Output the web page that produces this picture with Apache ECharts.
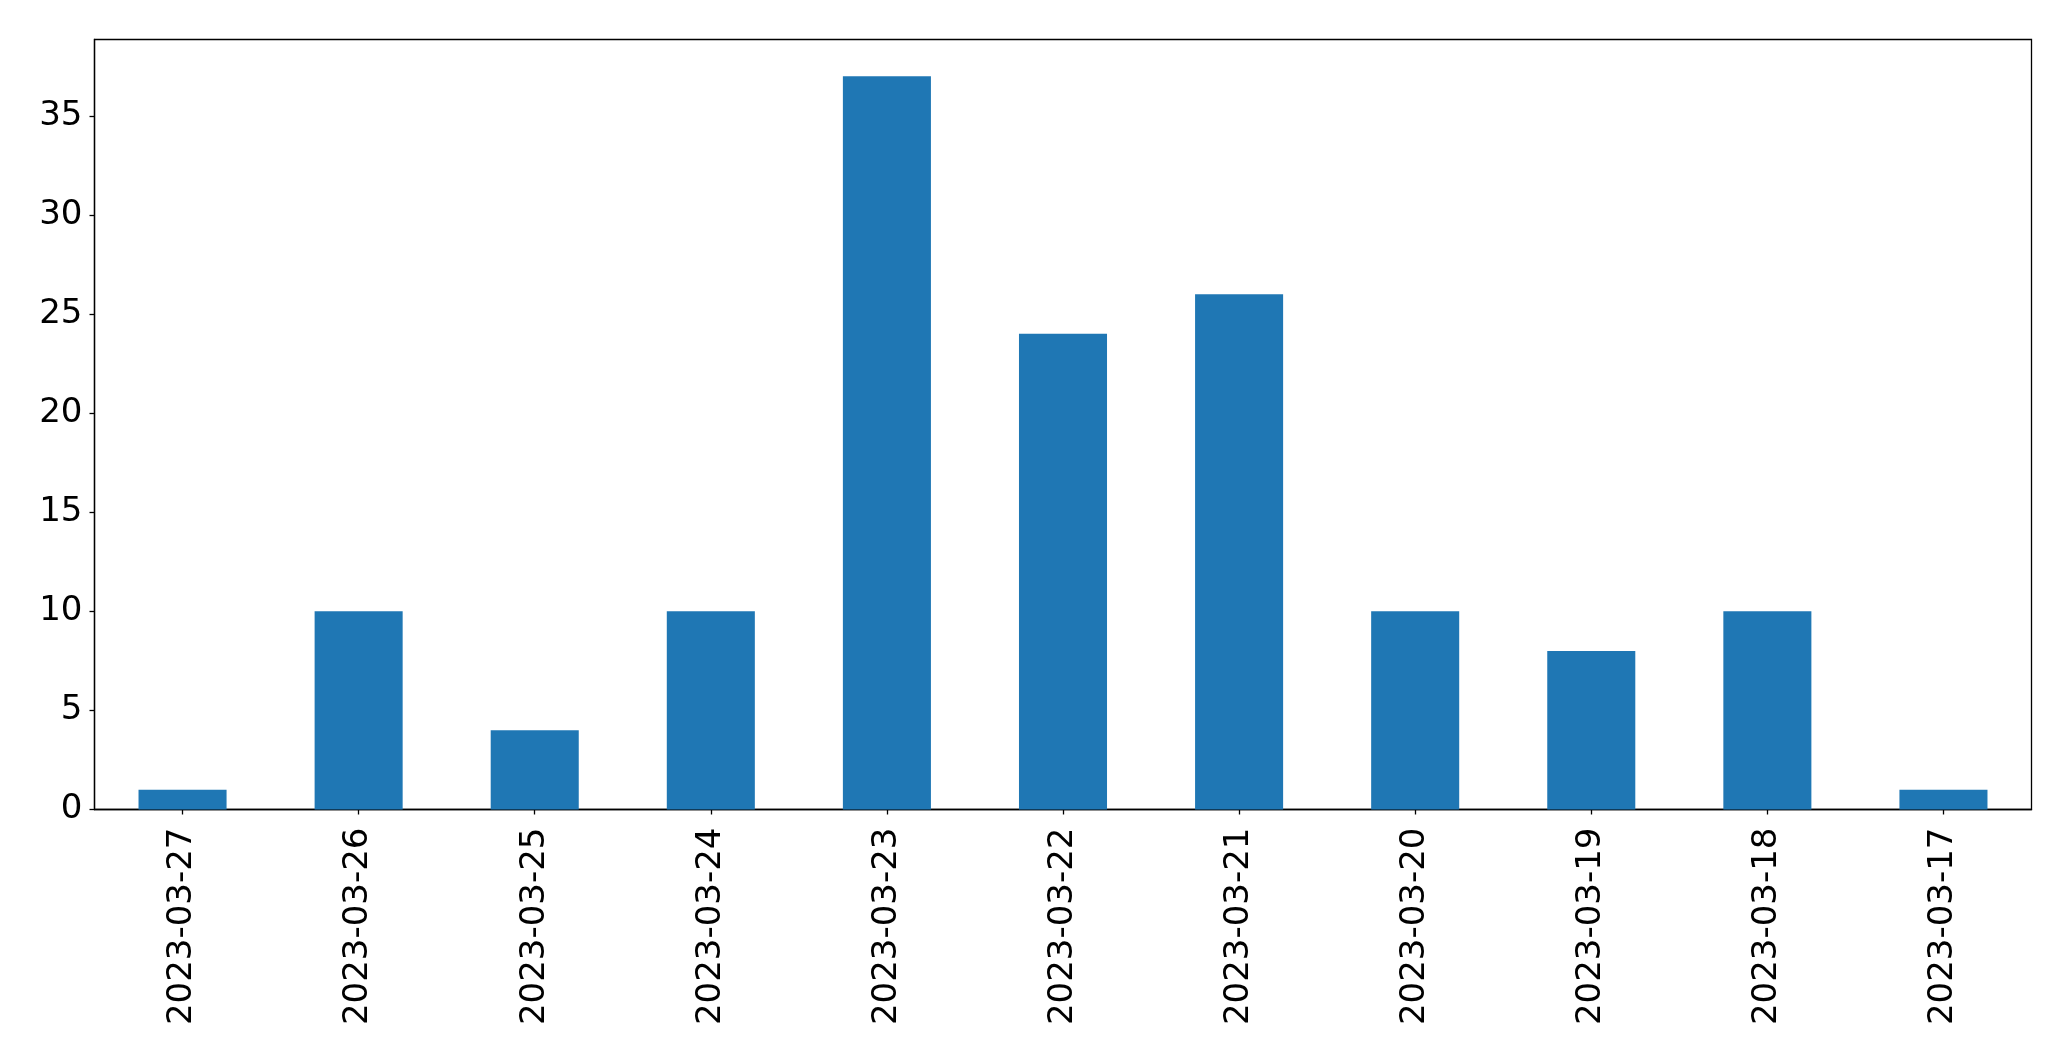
<!DOCTYPE html>
<html><head><meta charset="utf-8">
<script src="https://cdn.jsdelivr.net/npm/echarts@6/dist/echarts.min.js"></script>
<style>html,body{margin:0;padding:0;background:#fff}#c{width:2071px;height:1061px}</style>
</head><body><div id="c"></div>
<script>
const categories = ['2023-03-27','2023-03-26','2023-03-25','2023-03-24','2023-03-23','2023-03-22','2023-03-21','2023-03-20','2023-03-19','2023-03-18','2023-03-17'];
const counts = [1,10,4,10,37,24,26,10,8,10,1];
const yTicks = [0,5,10,15,20,25,30,35];
const yMax = 38.85;

const chart = echarts.init(document.getElementById('c'), null, {renderer:'canvas'});
chart.setOption({
  animation:false,
  grid:{left:94.5,right:39.5,top:39.5,bottom:251.5,show:true,borderColor:'#000',borderWidth:1.3,backgroundColor:'transparent'},
  xAxis:{type:'category',data:categories,
    axisLine:{show:true,lineStyle:{color:'#000',width:1.3}},
    axisTick:{show:true,alignWithLabel:true,length:5,lineStyle:{color:'#000',width:1.3}},
    axisLabel:{rotate:90,margin:18,fontSize:34,color:'#000',fontFamily:'DejaVu Sans',interval:0},
    splitLine:{show:false}},
  yAxis:{type:'value',min:0,max:yMax,interval:5,
    axisLine:{show:true,lineStyle:{color:'#000',width:1.3}},
    axisTick:{show:true,length:5,customValues:yTicks,lineStyle:{color:'#000',width:1.3}},
    axisLabel:{margin:12,fontSize:34,color:'#000',fontFamily:'DejaVu Sans',customValues:yTicks},
    splitLine:{show:false}},
  series:[{type:'bar',data:counts,barWidth:'50%',itemStyle:{color:'#1f77b4'}}]
});
</script></body></html>
